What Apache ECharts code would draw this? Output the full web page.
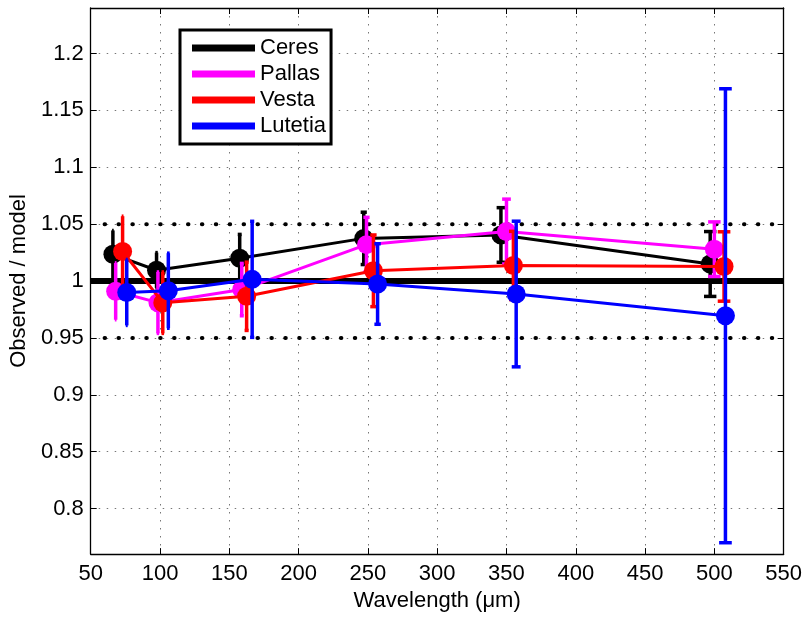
<!DOCTYPE html>
<html>
<head>
<meta charset="utf-8">
<script src="https://cdn.jsdelivr.net/npm/echarts@6/dist/echarts.min.js"></script>
<style>
html, body { margin: 0; padding: 0; background: #fff; }
#chart { width: 805px; height: 617px; }
</style>
</head>
<body>
<div id="chart"></div>
<script>
// asteroid names and colours
var names = ['Ceres', 'Pallas', 'Vesta', 'Lutetia'];
var colors = ['#000000', '#ff00ff', '#ff0000', '#0000ff'];

// x positions (wavelength, slightly shifted per asteroid), ratio and error
var ceresX = [66, 97.5, 157.5, 247, 346, 497];
var ceresY = [1.0235, 1.0095, 1.020, 1.0375, 1.0405, 1.015];
var ceresE = [0.021, 0.0155, 0.021, 0.023, 0.024, 0.0285];

var pallasX = [68, 98.5, 159, 249, 350, 500];
var pallasY = [0.991, 0.981, 0.9925, 1.032, 1.0435, 1.028];
var pallasE = [0.025, 0.027, 0.023, 0.024, 0.0285, 0.024];

var vestaX = [73, 102, 162.5, 254, 355, 507];
var vestaY = [1.026, 0.981, 0.9866, 1.009, 1.0137, 1.0128];
var vestaE = [0.031, 0.027, 0.030, 0.0315, 0.030, 0.0305];

var lutetiaX = [76, 106, 166.5, 257, 357, 508];
var lutetiaY = [0.990, 0.9915, 1.0015, 0.9974, 0.9886, 0.9695];
var lutetiaE = [0.029, 0.033, 0.051, 0.0354, 0.064, 0.1995];

// axis ticks
var yTicks = [0.8, 0.85, 0.9, 0.95, 1, 1.05, 1.1, 1.15, 1.2];
// reference lines
var refOne = [[50, 1], [550, 1]];
var refHigh = [[60, 1.05], [550, 1.05]];
var refLow = [[60, 0.95], [550, 0.95]];

var font = '"Liberation Sans", Arial, sans-serif';
var capFrac = 0.009;

var allX = [ceresX, pallasX, vestaX, lutetiaX];
var allY = [ceresY, pallasY, vestaY, lutetiaY];
var allE = [ceresE, pallasE, vestaE, lutetiaE];

//誤差棒
function errorSeries(idx, z) {
    var color = colors[idx];
    return {
        type: 'custom',
        name: names[idx] + ' err',
        z: z,
        silent: true,
        data: allX[idx].map(function (x, i) {
            return [x, allY[idx][i] - allE[idx][i], allY[idx][i] + allE[idx][i]];
        }),
        encode: { x: 0, y: [1, 2] },
        renderItem: function (params, api) {
            var x = api.value(0);
            var lo = api.coord([x, api.value(1)]);
            var hi = api.coord([x, api.value(2)]);
            var c1 = api.coord([x - x * capFrac, api.value(2)]);
            var c2 = api.coord([x + x * capFrac, api.value(2)]);
            var w = (c2[0] - c1[0]) / 2;
            var style = { stroke: color, lineWidth: 3.5 };
            return {
                type: 'group',
                children: [
                    { type: 'line', shape: { x1: lo[0], y1: lo[1], x2: hi[0], y2: hi[1] }, style: style },
                    { type: 'line', shape: { x1: hi[0] - w, y1: hi[1], x2: hi[0] + w, y2: hi[1] }, style: style },
                    { type: 'line', shape: { x1: lo[0] - w, y1: lo[1], x2: lo[0] + w, y2: lo[1] }, style: style }
                ]
            };
        }
    };
}

//折線+圓點
function lineSeries(idx, z) {
    return {
        type: 'line',
        name: names[idx],
        z: z,
        data: allX[idx].map(function (x, i) { return [x, allY[idx][i]]; }),
        symbol: 'circle',
        symbolSize: 19,
        showSymbol: true,
        itemStyle: { color: colors[idx] },
        lineStyle: { color: colors[idx], width: 3 }
    };
}

var series = [
    { type: 'line', name: 'one', z: 1, data: refOne, symbol: 'none', silent: true,
      lineStyle: { color: '#000', width: 6 } },
    { type: 'line', name: 'hi', z: 1, data: refHigh, symbol: 'none', silent: true,
      lineStyle: { color: '#000', width: 4, type: [0.5, 13.4], cap: 'round' } },
    { type: 'line', name: 'lo', z: 1, data: refLow, symbol: 'none', silent: true,
      lineStyle: { color: '#000', width: 4, type: [0.5, 13.4], cap: 'round' } }
];
for (var i = 0; i < names.length; i++) {
    series.push(errorSeries(i, 2 + i * 2));
    series.push(lineSeries(i, 3 + i * 2));
}

var gridDots = { show: true, lineStyle: { color: '#777', width: 1, type: [1.5, 6.5] } };
var tickStyle = { show: true, inside: true, length: 6, lineStyle: { color: '#000', width: 1 } };

var option = {
    animation: false,
    backgroundColor: '#fff',
    grid: { left: 90, right: 21, top: 8, bottom: 60, containLabel: false },
    legend: {
        data: names,
        orient: 'vertical',
        left: 180,
        top: 30,
        icon: 'rect',
        itemWidth: 63,
        itemHeight: 7,
        itemGap: 4,
        padding: [7, 5, 7, 12],
        borderColor: '#000',
        borderWidth: 3,
        backgroundColor: '#fff',
        textStyle: { fontSize: 22, lineHeight: 22, color: '#000', fontFamily: font }
    },
    xAxis: [{
        type: 'value', min: 50, max: 550, interval: 50, position: 'bottom',
        axisLine: { show: true, lineStyle: { color: '#000', width: 1.3 } },
        axisTick: tickStyle,
        axisLabel: { color: '#000', fontSize: 22, margin: 9, fontFamily: font },
        splitLine: gridDots,
        name: 'Wavelength (μm)',
        nameLocation: 'middle',
        nameGap: 35,
        nameTextStyle: { color: '#000', fontSize: 22, fontFamily: font }
    }, {
        type: 'value', min: 50, max: 550, interval: 50, position: 'top',
        axisLine: { show: true, lineStyle: { color: '#000', width: 1.3 } },
        axisTick: tickStyle,
        axisLabel: { show: false },
        splitLine: { show: false }
    }],
    yAxis: [{
        type: 'value', min: 0.76, max: 1.24, position: 'left',
        axisLine: { show: true, lineStyle: { color: '#000', width: 1.3 } },
        axisTick: { show: true, inside: true, length: 6, customValues: yTicks, lineStyle: { color: '#000' } },
        axisLabel: {
            customValues: yTicks, color: '#000', fontSize: 22, margin: 7, fontFamily: font,
            formatter: function (v) { return String(+v.toFixed(2)); }
        },
        splitLine: gridDots,
        name: 'Observed / model',
        nameLocation: 'middle',
        nameGap: 58,
        nameTextStyle: { color: '#000', fontSize: 22, fontFamily: font }
    }, {
        type: 'value', min: 0.76, max: 1.24, position: 'right',
        axisLine: { show: true, lineStyle: { color: '#000', width: 1.3 } },
        axisTick: { show: true, inside: true, length: 6, customValues: yTicks, lineStyle: { color: '#000' } },
        axisLabel: { show: false },
        splitLine: { show: false }
    }],
    series: series
};

var myChart = echarts.init(document.getElementById('chart'));
myChart.setOption(option);
</script>
</body>
</html>
